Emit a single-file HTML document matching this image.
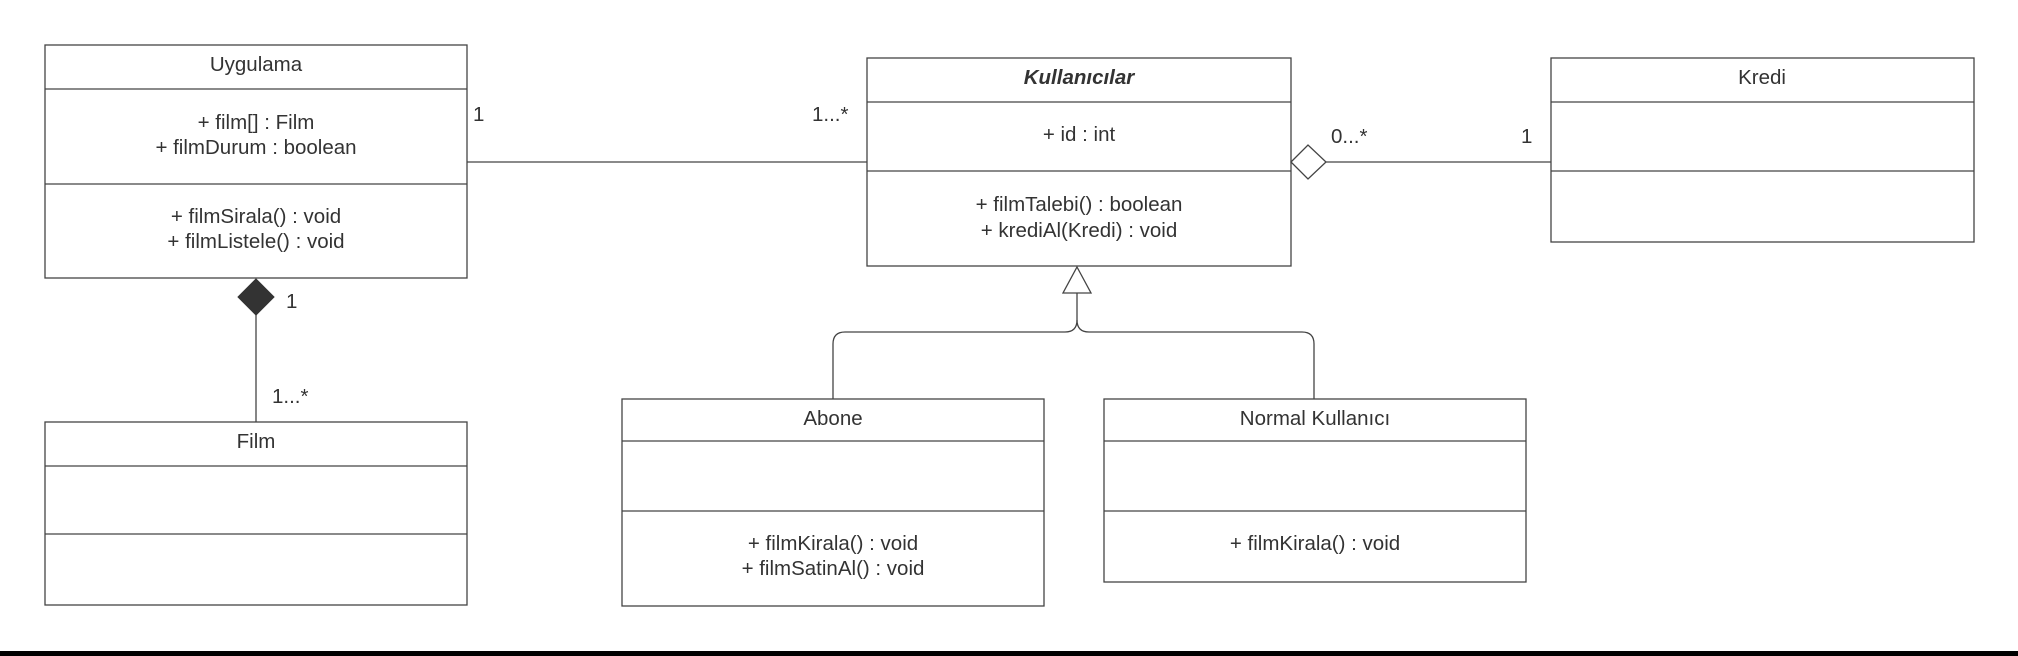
<!DOCTYPE html>
<html><head><meta charset="utf-8"><style>
html,body{margin:0;padding:0;background:#fff;}
body{width:2018px;height:656px;overflow:hidden;position:relative;}
svg{position:absolute;left:0;top:0;}
text{font-family:"Liberation Sans",sans-serif;font-size:20.5px;fill:#333;}
</style></head><body>
<svg width="2018" height="656" viewBox="0 0 2018 656">
<g fill="#fff" stroke="#444" stroke-width="1.3">
<rect x="45" y="45" width="422" height="233"/>
<line x1="45" y1="89" x2="467" y2="89"/><line x1="45" y1="184" x2="467" y2="184"/>
<rect x="45" y="422" width="422" height="183"/>
<line x1="45" y1="466" x2="467" y2="466"/><line x1="45" y1="534" x2="467" y2="534"/>
<rect x="867" y="58" width="424" height="208"/>
<line x1="867" y1="102" x2="1291" y2="102"/><line x1="867" y1="171" x2="1291" y2="171"/>
<rect x="1551" y="58" width="423" height="184"/>
<line x1="1551" y1="102" x2="1974" y2="102"/><line x1="1551" y1="171" x2="1974" y2="171"/>
<rect x="622" y="399" width="422" height="207"/>
<line x1="622" y1="441" x2="1044" y2="441"/><line x1="622" y1="511" x2="1044" y2="511"/>
<rect x="1104" y="399" width="422" height="183"/>
<line x1="1104" y1="441" x2="1526" y2="441"/><line x1="1104" y1="511" x2="1526" y2="511"/>
</g>
<g stroke="#444" stroke-width="1.3" fill="none">
<line x1="467" y1="162" x2="867" y2="162"/>
<line x1="256" y1="315" x2="256" y2="422"/>
<line x1="1326" y1="162" x2="1551" y2="162"/>
<line x1="1077" y1="293" x2="1077" y2="320"/>
<path d="M1077 320 Q1077 332 1065 332 L845 332 Q833 332 833 344 L833 399"/>
<path d="M1077 320 Q1077 332 1089 332 L1302 332 Q1314 332 1314 344 L1314 399"/>
</g>
<polygon points="256,279 274,297 256,315 238,297" fill="#333" stroke="#333"/>
<polygon points="1291,162 1308,145 1326,162 1308,179" fill="#fff" stroke="#444" stroke-width="1.3"/>
<polygon points="1077,267 1091,293 1063,293" fill="#fff" stroke="#444" stroke-width="1.3"/>
<g text-anchor="middle">
<text x="256" y="71">Uygulama</text>
<text x="256" y="129">+ film[] : Film</text>
<text x="256" y="154">+ filmDurum : boolean</text>
<text x="256" y="223">+ filmSirala() : void</text>
<text x="256" y="248">+ filmListele() : void</text>
<text x="256" y="448">Film</text>
<text x="1079" y="84" font-style="italic" font-weight="bold">Kullanıcılar</text>
<text x="1079" y="141">+ id : int</text>
<text x="1079" y="211">+ filmTalebi() : boolean</text>
<text x="1079" y="237">+ krediAl(Kredi) : void</text>
<text x="1762" y="84">Kredi</text>
<text x="833" y="425">Abone</text>
<text x="833" y="550">+ filmKirala() : void</text>
<text x="833" y="575">+ filmSatinAl() : void</text>
<text x="1315" y="425">Normal Kullanıcı</text>
<text x="1315" y="550">+ filmKirala() : void</text>
</g>
<text x="473" y="121">1</text>
<text x="812" y="121">1...*</text>
<text x="286" y="308">1</text>
<text x="272" y="403">1...*</text>
<text x="1331" y="143">0...*</text>
<text x="1521" y="143">1</text>
<rect x="0" y="651" width="2018" height="5" fill="#000"/>
</svg>
</body></html>
